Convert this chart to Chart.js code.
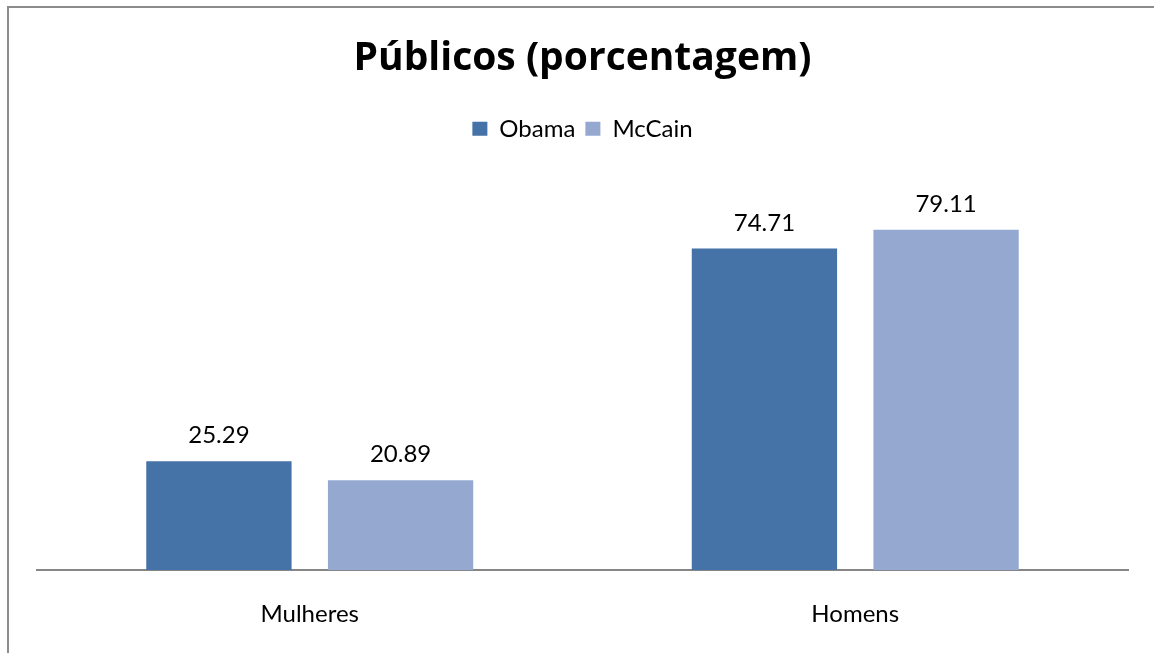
<!DOCTYPE html>
<html>
<head>
<meta charset="utf-8">
<script src="https://cdn.jsdelivr.net/npm/chart.js@4"></script>
<style>
  html, body { margin: 0; padding: 0; background: #fff; overflow: hidden; }
  #frame { position: absolute; left: 7px; top: 6px; width: 1200px; height: 700px;
           border-left: 2px solid #8c8c8c; border-top: 2px solid #8c8c8c; }
  #wrap { position: absolute; left: 0; top: 0; width: 1154px; height: 653px; }
</style>
</head>
<body>
<div id="frame"></div>
<div id="wrap"><canvas id="c" width="1154" height="653"></canvas></div>
<script>
const categories = ['Mulheres', 'Homens'];
const obama = [25.29, 74.71];
const mccain = [20.89, 79.11];
const seriesNames = ['Obama', 'McCain'];

const FONT = 'Lato, "Noto Sans", sans-serif';
const TITLE_FONT = '"Open Sans", "Noto Sans", sans-serif';
const LEGEND_GAP = 32;   // extra space between the legend and the plot

// Writes each bar's value just above it
const valueLabels = {
  id: 'valueLabels',
  afterDatasetsDraw(chart) {
    const ctx = chart.ctx;
    ctx.save();
    ctx.font = '24px ' + FONT;
    ctx.fillStyle = '#000';
    ctx.textAlign = 'center';
    ctx.textBaseline = 'alphabetic';
    chart.data.datasets.forEach((ds, i) => {
      chart.getDatasetMeta(i).data.forEach((bar, j) => {
        ctx.fillText(ds.data[j].toFixed(2), bar.x, bar.y - 18);
      });
    });
    ctx.restore();
  }
};

// Leaves room under the legend
const legendGap = {
  id: 'legendGap',
  afterInit(chart) {
    const legend = chart.legend;
    const fit = legend.fit;
    legend.fit = function () {
      fit.call(this);
      this.height += LEGEND_GAP;
    };
  }
};

new Chart(document.getElementById('c'), {
  type: 'bar',
  data: {
    labels: categories,
    datasets: [
      { label: seriesNames[0], data: obama, backgroundColor: '#4572A7' },
      { label: seriesNames[1], data: mccain, backgroundColor: '#95A9D0' }
    ]
  },
  options: {
    responsive: false,
    animation: false,
    devicePixelRatio: 1,
    layout: { padding: { left: 37, right: 26, top: 35, bottom: 0 } },
    categoryPercentage: 0.666,
    barPercentage: 0.8,
    plugins: {
      title: {
        display: true,
        text: 'Públicos (porcentagem)',
        color: '#000',
        font: { family: TITLE_FONT, size: 39, weight: 'bold' },
        padding: { top: 0, bottom: 25 }
      },
      legend: {
        display: true,
        labels: {
          color: '#000',
          font: { family: FONT, size: 24 },
          boxWidth: 15, boxHeight: 14,
          padding: 10
        }
      },
      tooltip: { enabled: false }
    },
    scales: {
      y: { display: false, min: 0, max: 90 },
      x: {
        grid: { display: false, drawTicks: false },
        border: { display: true, color: '#868686', width: 2 },
        ticks: { color: '#000', font: { family: FONT, size: 24 }, padding: 30 },
        afterFit(scale) { scale.height = 83; }
      }
    }
  },
  plugins: [valueLabels, legendGap]
});
</script>
</body>
</html>
